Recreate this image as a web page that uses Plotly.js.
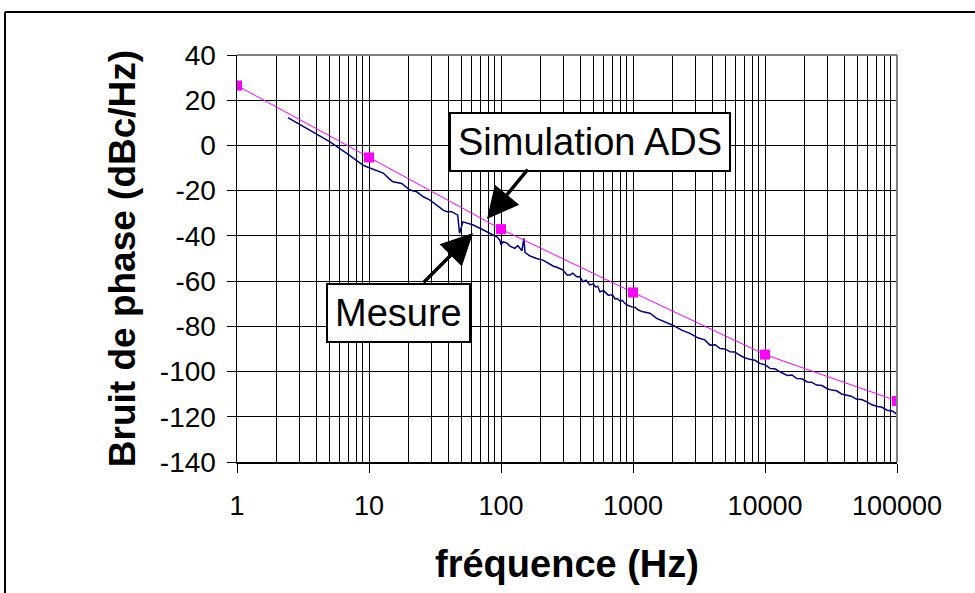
<!DOCTYPE html>
<html>
<head>
<meta charset="utf-8">
<script src="https://cdn.plot.ly/plotly-3.0.1.min.js"></script>
<style>html,body{margin:0;padding:0;background:#fff;}#chart{width:975px;height:593px;}</style>
</head>
<body>
<div id="chart"></div>
<script>
// Simulation ADS (magenta squares)
const simFreq = [1, 10, 100, 1000, 10000, 100000];
const simVal = [26.5, -5.3, -37, -65, -92.5, -113];

// Mesure (navy noisy curve)
const measFreq = [2.43, 3.57, 5.07, 6.78, 8.07, 9.0, 9.6, 11.4, 12.8, 14.4, 15.2, 17.7, 20.4, 23, 25.8, 29, 32.6, 36.5, 39, 42.3, 47, 48.5, 51.5, 61.7, 73.5, 93, 98, 100, 104, 111, 117, 127, 134, 144, 149, 152, 166, 186, 208, 228, 250, 268, 295, 316,
  333, 350, 375, 395, 418, 440, 472, 500, 520, 540, 562, 600, 650, 700, 730, 759, 800, 830, 869, 920, 980, 1040, 1097, 1190, 1345, 1510, 1747, 2000, 2339, 2700,
  3125, 3500, 3830, 4200, 4560, 5000, 5430, 5900, 6460, 7000, 7690, 8400, 9160, 10000, 10900, 12000, 13000, 14700, 16000, 17400, 19000, 20900, 22500, 24600, 27000, 29600, 32000, 34900, 38000, 41800, 45000, 49500, 54000, 59200, 64000, 70100, 77000, 84000, 92000, 100000];
const measVal = [12.3, 6.8, 1.6, -3.5, -6.5, -8.7, -9.4, -11.2, -12.2, -15.0, -16.1, -16.8, -19.7, -20.5, -22.7, -24.2, -26.4, -28.6, -29.3, -29.3, -30.8, -38.8, -33.8, -35.2, -37.4, -40.4, -41.9, -44.0, -42.6, -43.2, -44.5, -45.5, -44.3, -46.6, -41.1, -47.3, -48.9, -50.0, -50.7, -52.0, -53.4, -54.0, -55.1, -57.3,
  -57.3, -56.5, -58.1, -58.0, -60.3, -59.6, -61.7, -61.2, -62.6, -62.3, -64.7, -64.2, -66.2, -66.0, -67.9, -67.7, -68.9, -68.5, -69.9, -70.8, -71.4, -71.6, -72.8, -73.6, -74.2, -76.5, -78.0, -79.5, -81.7, -83.1,
  -85.2, -86.0, -88.3, -88.1, -89.8, -90.0, -91.3, -91.4, -92.8, -93.9, -94.6, -95.0, -96.4, -97.0, -98.6, -98.9, -100.1, -101.7, -101.5, -103.1, -103.2, -104.6, -104.7, -106.0, -106.2, -107.6, -108.2, -108.5, -109.9, -110.5, -110.9, -112.3, -112.4, -113.4, -114.6, -115.3, -115.8, -117.1, -117.4, -118.9];

// Axis tick labels
const xTickVals = [1, 10, 100, 1000, 10000, 100000];
const xTickText = ['1', '10', '100', '1000', '10000', '100000'];
const yTickVals = [-140, -120, -100, -80, -60, -40, -20, 0, 20, 40];
const yTickText = ['-140', '-120', '-100', '-80', '-60', '-40', '-20', '0', '20', '40'];

const xTitle = 'fréquence (Hz)';
const yTitle = 'Bruit de phase (dBc/Hz)';
const annSim = 'Simulation ADS';
const annMes = 'Mesure';

// layout geometry (pixels)
const W = 975, H = 593;
const L = 237, R = 897, T = 55, B = 462;
const px = x => (x - L) / (R - L);
const py = y => (B - y) / (B - T);

const FONT = 'Liberation Sans, Arial, sans-serif';

const traces = [
  {
    x: measFreq, y: measVal, type: 'scatter', mode: 'lines',
    line: {color: '#000080', width: 1.5}, hoverinfo: 'skip'
  },
  {
    x: simFreq, y: simVal, type: 'scatter', mode: 'lines+markers',
    line: {color: '#FF00FF', width: 1},
    marker: {symbol: 'square', size: 10, color: '#FF00FF'}, hoverinfo: 'skip'
  }
];

const layout = {
  width: W, height: H,
  margin: {l: L, r: W - R, t: T, b: H - B, pad: 0},
  paper_bgcolor: '#fff', plot_bgcolor: '#fff',
  showlegend: false,
  font: {family: FONT, color: '#000'},
  xaxis: {
    type: 'log', range: [0, 5],
    tickvals: xTickVals, ticktext: xTickText,
    ticks: 'outside', ticklen: 9, tickwidth: 1, tickcolor: '#000',
    showgrid: true, gridcolor: '#000', gridwidth: 1,
    minor: {dtick: 'D1', showgrid: true, gridcolor: '#000', gridwidth: 1, ticks: ''},
    showline: true, linecolor: '#000', linewidth: 1.5,
    zeroline: false,
    tickfont: {family: FONT, size: 27, color: '#000'},
    ticklabelstandoff: 10,
    title: {text: xTitle, font: {family: FONT, size: 38, color: '#000', weight: 'bold'}, standoff: 30}
  },
  yaxis: {
    range: [-140, 40], tickvals: yTickVals, ticktext: yTickText,
    ticks: 'outside', ticklen: 9, tickwidth: 1, tickcolor: '#000',
    showgrid: true, gridcolor: '#000', gridwidth: 1,
    showline: true, linecolor: '#000', linewidth: 1.5,
    zeroline: false,
    tickfont: {family: FONT, size: 28, color: '#000'},
    ticklabelstandoff: 5,
    title: {text: yTitle, font: {family: FONT, size: 37, color: '#000', weight: 'bold'}, standoff: 13}
  },
  shapes: [
    {type: 'line', xref: 'paper', yref: 'paper', x0: 0, x1: 1, y0: 1, y1: 1, line: {color: '#808080', width: 2}},
    {type: 'line', xref: 'paper', yref: 'paper', x0: 1, x1: 1, y0: 0, y1: 1, line: {color: '#808080', width: 2}},
    {type: 'line', xref: 'paper', yref: 'paper', x0: px(5), x1: px(5), y0: py(12), y1: py(600), line: {color: '#000', width: 2}},
    {type: 'line', xref: 'paper', yref: 'paper', x0: px(5), x1: px(980), y0: py(12), y1: py(12), line: {color: '#000', width: 2}}
  ],
  annotations: [
    {xref: 'paper', yref: 'paper', x: px(589.5), y: py(142), xanchor: 'center', yanchor: 'middle',
     text: annSim, showarrow: false, font: {family: FONT, size: 38, color: '#000'},
     bgcolor: '#fff', bordercolor: '#000', borderwidth: 2, borderpad: 7},
    {xref: 'paper', yref: 'paper', x: px(398), y: py(313), xanchor: 'center', yanchor: 'middle',
     text: annMes, showarrow: false, font: {family: FONT, size: 38, color: '#000'},
     bgcolor: '#fff', bordercolor: '#000', borderwidth: 2, borderpad: 7},
    {xref: 'paper', yref: 'paper', x: px(487), y: py(219), text: '', showarrow: true,
     ax: 42, ay: -51, arrowhead: 2, arrowsize: 1.8, arrowwidth: 3.5, arrowcolor: '#000'},
    {xref: 'paper', yref: 'paper', x: px(473), y: py(233), text: '', showarrow: true,
     ax: -51, ay: 51, arrowhead: 2, arrowsize: 1.8, arrowwidth: 3.5, arrowcolor: '#000'}
  ]
};

Plotly.newPlot('chart', traces, layout, {displayModeBar: false, staticPlot: true});
</script>
</body>
</html>
